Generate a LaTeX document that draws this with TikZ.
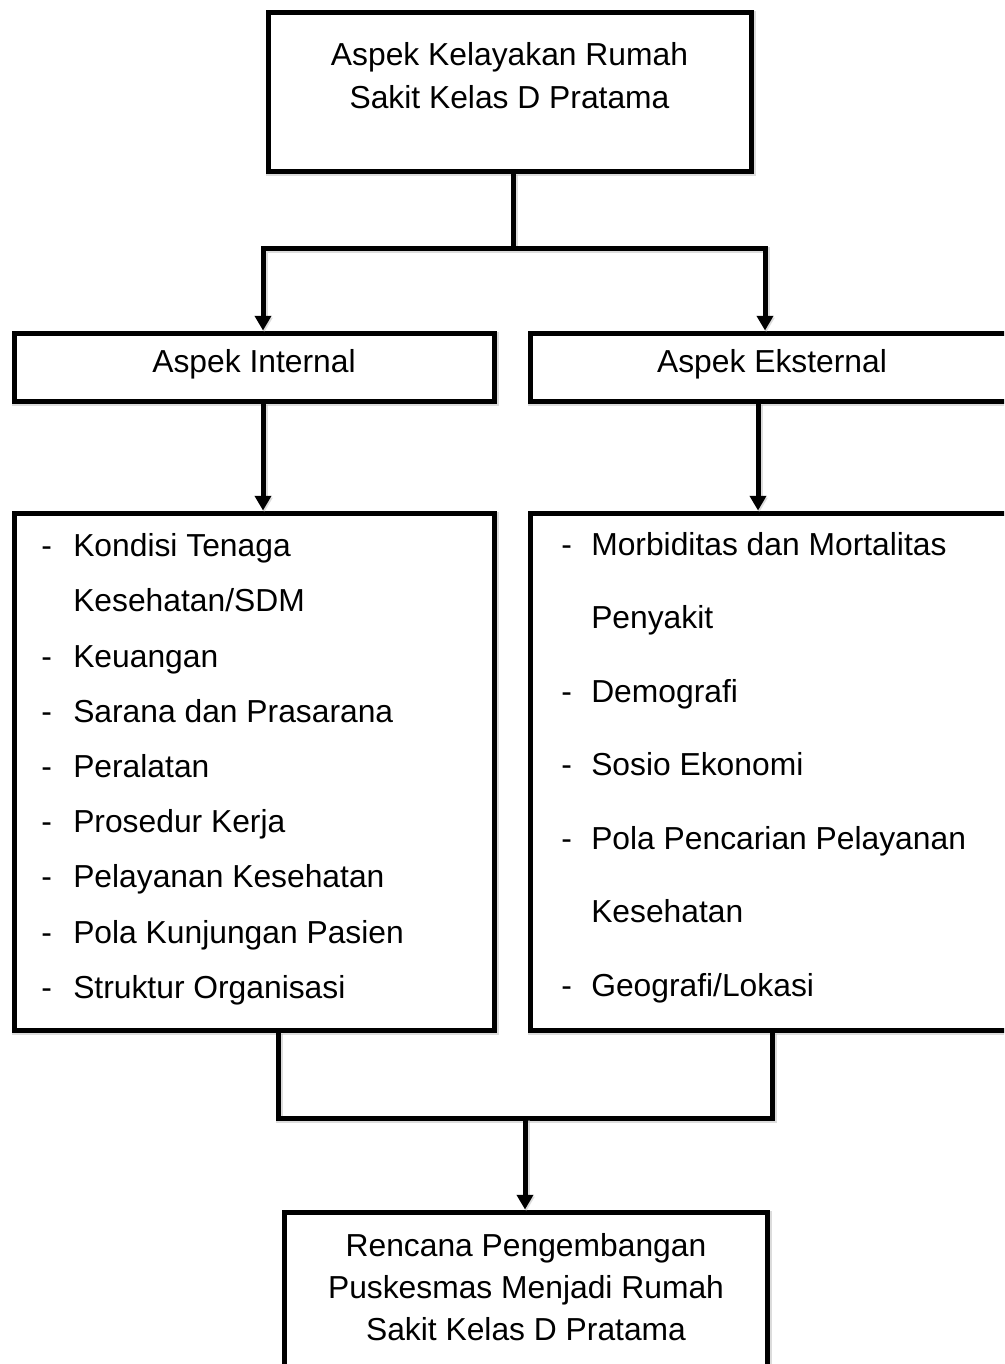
\documentclass[tikz,border=0pt]{standalone}
\usepackage{fontspec}
\setmainfont{Liberation Sans}
\usetikzlibrary{arrows.meta}
\begin{document}
\begin{tikzpicture}[x=0.75pt,y=-0.75pt,
  shade/.style={preaction={draw=black!30,line width=5pt,opacity=0.45,transform canvas={shift={(0.9pt,-1.4pt)}}}},
  box/.style={draw=black,line width=3.75pt,fill=white,rectangle,inner sep=0pt,line join=miter,shade},
  conn/.style={draw=black,line width=3.75pt,line join=miter,shade},
  tip/.style={-{Triangle[width=12pt,length=11pt]}},
  txt/.style={font=\fontsize{23.85pt}{32pt}\selectfont,inner sep=0pt,anchor=base},
  item/.style={font=\fontsize{23.85pt}{32pt}\selectfont,inner sep=0pt,anchor=base west}]
\useasboundingbox (0,0) rectangle (1004,1364);
\clip (0,0) rectangle (1004,1364);
\fill[white] (0,0) rectangle (1004,1364);

% boxes
\node[box,minimum width=362.25pt,minimum height=119.25pt] (top) at (509.5,91.5) {};
\node[txt] (topa) at (509.5,65) {Aspek Kelayakan Rumah};
\node[txt] (topb) at (509.5,108) {Sakit Kelas D Pratama};

\node[box,minimum width=360pt,minimum height=51pt] (intl) at (254,367) {};
\node[txt] (intlt) at (254,372) {Aspek Internal};
\node[box,minimum width=363pt,minimum height=51pt] (extl) at (772,367) {};
\node[txt] (extlt) at (772,372) {Aspek Eksternal};

\node[box,minimum width=360pt,minimum height=387.75pt] (lbox) at (254,771.5) {};
\node[box,minimum width=363pt,minimum height=387.75pt] (rbox) at (772,771.5) {};

\node[box,minimum width=362.25pt,minimum height=156pt] (bot) at (525.5,1316) {};
\node[txt] (bota) at (526,1256) {Rencana Pengembangan};
\node[txt] (botb) at (526,1298) {Puskesmas Menjadi Rumah};
\node[txt] (botc) at (526,1340) {Sakit Kelas D Pratama};

% left list
\foreach \y/\d/\t [count=\i] in {556/-/{Kondisi Tenaga}, 611//{Kesehatan/SDM}, 667/-/{Keuangan},
  722/-/{Sarana dan Prasarana}, 777/-/{Peralatan}, 832/-/{Prosedur Kerja},
  887/-/{Pelayanan Kesehatan}, 943/-/{Pola Kunjungan Pasien}, 998/-/{Struktur Organisasi}}{
  \node[item] (ld\i) at (41,\y) {\d};
  \node[item] (lt\i) at (73,\y) {\t};
}
% right list
\foreach \y/\d/\t [count=\i] in {555/-/{Morbiditas dan Mortalitas}, 628.5//{Penyakit}, 702/-/{Demografi},
  775.5/-/{Sosio Ekonomi}, 849/-/{Pola Pencarian Pelayanan}, 922.5//{Kesehatan}, 996/-/{Geografi/Lokasi}}{
  \node[item] (rd\i) at (561,\y) {\d};
  \node[item] (rt\i) at (591,\y) {\t};
}

% connectors
\coordinate (jm) at (513,248);
\coordinate (jl) at (263,248);
\coordinate (jr) at (765,248);
\draw[conn] (top.south -| jm) -- (jm);
\draw[conn,{Triangle[width=12pt,length=11pt]}-{Triangle[width=12pt,length=11pt]}]
  (intl.north -| jl) -- (jl) -- (jr) -- (extl.north -| jr);
\coordinate (il) at (263,0);
\coordinate (ir) at (758,0);
\draw[conn,tip] (intl.south -| il) -- (lbox.north -| il);
\draw[conn,tip] (extl.south -| ir) -- (rbox.north -| ir);

\coordinate (kl) at (278,1118);
\coordinate (kr) at (772,1118);
\coordinate (km) at (525,1118);
\draw[conn] (lbox.south -| kl) -- (kl) -- (kr) -- (rbox.south -| kr);
\draw[conn,tip] (km) -- (bot.north -| km);
\end{tikzpicture}
\end{document}
